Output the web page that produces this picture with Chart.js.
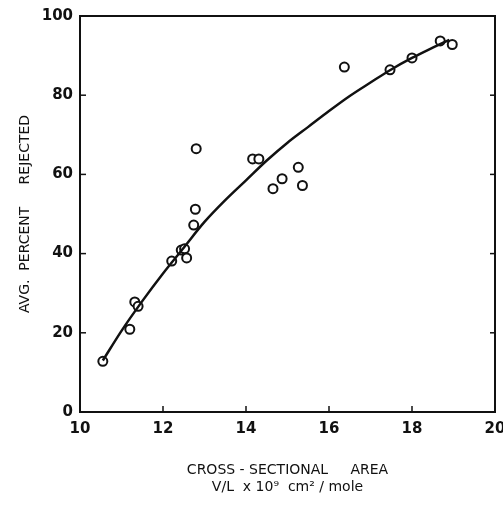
<!DOCTYPE html>
<html>
<head>
<meta charset="utf-8">
<script src="https://cdn.jsdelivr.net/npm/chart.js@4/dist/chart.umd.min.js"></script>
<style>
  html, body { margin: 0; padding: 0; background: #fff; }
  #wrap { width: 503px; height: 510px; }
</style>
</head>
<body>
<div id="wrap"><canvas id="chart"></canvas></div>
<script>
// measured points (open circles)
var pointX = [10.55, 11.2, 11.32, 11.4, 12.21, 12.44, 12.52, 12.57, 12.74, 12.78, 12.8, 14.16, 14.31, 14.65, 14.87, 15.26, 15.36, 16.37, 17.47, 18.0, 18.68, 18.97];
var pointY = [12.8, 20.9, 27.8, 26.7, 38.1, 40.9, 41.2, 38.9, 47.2, 51.2, 66.5, 63.9, 63.9, 56.4, 58.9, 61.8, 57.2, 87.1, 86.4, 89.4, 93.7, 92.8];

// fitted curve
var curveX = [10.55, 11, 11.5, 12, 12.5, 13, 13.5, 14, 14.5, 15, 15.5, 16, 16.5, 17, 17.5, 18, 18.5, 18.9];
var curveY = [13, 20.5, 28, 35, 41.5, 48, 53.5, 58.5, 63.5, 68, 72, 76, 79.8, 83.2, 86.5, 89.4, 92, 94];

var xTicks = [10, 12, 14, 16, 18, 20];
var yTicks = [0, 20, 40, 60, 80, 100];

var points = pointX.map(function (x, i) { return {x: x, y: pointY[i]}; });
var curve = curveX.map(function (x, i) { return {x: x, y: curveY[i]}; });

// draw box and inward ticks like the printed figure
var frame = {
  id: 'frame',
  afterDraw: function (chart) {
    var ctx = chart.ctx, a = chart.chartArea;
    var xs = chart.scales.x, ys = chart.scales.y;
    ctx.save();
    ctx.strokeStyle = '#111';
    ctx.lineWidth = 2;
    ctx.strokeRect(a.left, a.top, a.right - a.left, a.bottom - a.top);
    ctx.lineWidth = 1.5;
    xTicks.forEach(function (v) {
      var px = xs.getPixelForValue(v);
      ctx.beginPath(); ctx.moveTo(px, a.bottom); ctx.lineTo(px, a.bottom - 6); ctx.stroke();
    });
    yTicks.forEach(function (v) {
      var py = ys.getPixelForValue(v);
      ctx.beginPath(); ctx.moveTo(a.left, py); ctx.lineTo(a.left + 6, py); ctx.stroke();
      ctx.beginPath(); ctx.moveTo(a.right, py); ctx.lineTo(a.right - 5, py); ctx.stroke();
    });
    ctx.restore();
  }
};

var config = {
  type: 'scatter',
  data: {
    datasets: [{
      type: 'line',
      label: 'fit',
      data: curve,
      borderColor: '#111',
      borderWidth: 2.5,
      pointRadius: 0,
      cubicInterpolationMode: 'monotone',
      fill: false
    }, {
      label: 'measured',
      data: points,
      backgroundColor: '#fff',
      borderColor: '#111',
      borderWidth: 2,
      pointRadius: 4.5
    }]
  },
  options: {
    responsive: true,
    maintainAspectRatio: false,
    animation: false,
    layout: { padding: { left: 0, right: 0, top: 14, bottom: 0 } },
    plugins: {
      legend: { display: false },
      tooltip: { enabled: false }
    },
    scales: {
      x: {
        type: 'linear',
        min: 10, max: 20,
        afterBuildTicks: function (s) { s.ticks = xTicks.map(function (v) { return {value: v}; }); },
        afterFit: function (s) { s.height = 98; s.paddingRight = 8; s.paddingLeft = 0; },
        grid: { display: false, drawTicks: false },
        border: { display: false },
        ticks: {
          color: '#111', padding: 8,
          font: { family: 'DejaVu Sans', size: 15, weight: 'bold' },
          maxRotation: 0
        },
        title: {
          display: true,
          text: ['CROSS - SECTIONAL     AREA', 'V/L  x 10\u2079  cm\u00b2 / mole'],
          color: '#111',
          font: { family: 'DejaVu Sans', size: 14, lineHeight: 1.22 },
          padding: { top: 0, bottom: 14 }
        }
      },
      y: {
        type: 'linear',
        min: 0, max: 100,
        afterBuildTicks: function (s) { s.ticks = yTicks.map(function (v) { return {value: v}; }); },
        afterFit: function (s) { s.width = 80; },
        grid: { display: false, drawTicks: false },
        border: { display: false },
        ticks: {
          color: '#111', padding: 7,
          font: { family: 'DejaVu Sans', size: 15, weight: 'bold' }
        },
        title: {
          display: true,
          text: 'AVG.  PERCENT     REJECTED',
          color: '#111',
          font: { family: 'DejaVu Sans', size: 14, lineHeight: 1.1 },
          padding: { top: 18, bottom: 0 }
        }
      }
    }
  },
  plugins: [frame]
};

var myChart = new Chart(document.getElementById('chart'), config);
</script>
</body>
</html>
